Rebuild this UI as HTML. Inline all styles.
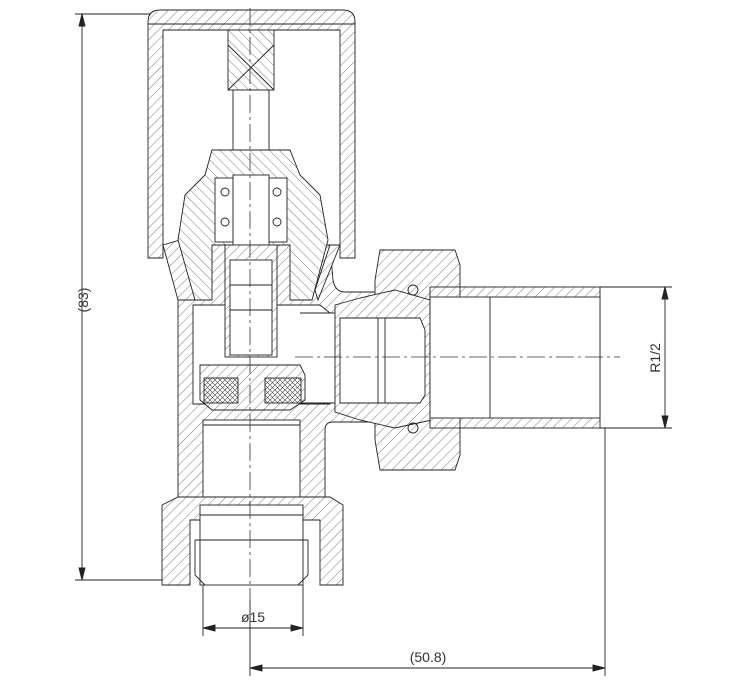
<!DOCTYPE html>
<html><head><meta charset="utf-8"><style>
html,body{margin:0;padding:0;background:#fff;}
svg{display:block;}
text{font-family:"Liberation Sans",sans-serif;font-size:14px;fill:#333;}
</style></head><body>
<svg width="734" height="700" viewBox="0 0 734 700" xmlns="http://www.w3.org/2000/svg">
<defs>
<pattern id="h" patternUnits="userSpaceOnUse" width="7" height="7" patternTransform="rotate(45)">
<rect width="7" height="7" fill="#fff"/><line x1="0" y1="0" x2="0" y2="7" stroke="#444" stroke-width="0.7"/>
</pattern>
<pattern id="h2" patternUnits="userSpaceOnUse" width="7" height="7" patternTransform="rotate(-45)">
<rect width="7" height="7" fill="#fff"/><line x1="0" y1="0" x2="0" y2="7" stroke="#444" stroke-width="0.7"/>
</pattern>
<pattern id="x" patternUnits="userSpaceOnUse" width="5" height="5">
<rect width="5" height="5" fill="#fff"/><path d="M0,0 L5,5 M5,0 L0,5" stroke="#444" stroke-width="0.6"/>
</pattern>
</defs>
<g stroke="#222" stroke-width="0.9" fill="none">
<!-- left dimension -->
<line x1="75" y1="14" x2="150" y2="14"/>
<line x1="75" y1="580" x2="162" y2="580"/>
<line x1="82" y1="14" x2="82" y2="580"/>
<polygon points="82,14 79,26 85,26" fill="#222"/>
<polygon points="82,580 79,568 85,568" fill="#222"/>
<!-- right dimension -->
<line x1="600" y1="287" x2="672" y2="287"/>
<line x1="600" y1="428" x2="672" y2="428"/>
<line x1="665" y1="287" x2="665" y2="428"/>
<polygon points="665,287 662,299 668,299" fill="#222"/>
<polygon points="665,428 662,416 668,416" fill="#222"/>
<!-- bottom dims -->
<line x1="203" y1="585" x2="203" y2="636"/>
<line x1="303" y1="585" x2="303" y2="636"/>
<line x1="203" y1="628" x2="303" y2="628"/>
<polygon points="203,628 215,625 215,631" fill="#222"/>
<polygon points="303,628 291,625 291,631" fill="#222"/>
<line x1="250" y1="600" x2="250" y2="676"/>
<line x1="605" y1="428" x2="605" y2="676"/>
<line x1="250" y1="668" x2="605" y2="668"/>
<polygon points="250,668 262,665 262,671" fill="#222"/>
<polygon points="605,668 593,665 593,671" fill="#222"/>

<!-- cap -->
<path d="M148,258 L148,22 Q148,10 160,10 L343,10 Q355,10 355,22 L355,258 L340,258 L340,30 L163,30 L163,258 Z" fill="url(#h)"/>
<line x1="148" y1="24" x2="355" y2="24"/>
<!-- stem -->
<rect x="228" y="30" width="46" height="60" fill="url(#h2)"/>
<line x1="228" y1="45" x2="274" y2="90"/><line x1="274" y1="45" x2="228" y2="90"/>
<rect x="233" y="90" width="36" height="60" fill="#fff"/>

<!-- body -->
<path d="M178,245 L178,497 L325,497 L325,430 Q325,422 333,422 L378,422 L378,292 L345,292 Q335,292 333,280 L330,245 Z" fill="url(#h)"/>
<path d="M193,305 L193,404 L330,404 L330,313 L320,305 Z" fill="#fff"/>
<rect x="300" y="313" width="80" height="90" fill="#fff" stroke="none"/>
<path d="M300,313 L380,313 M300,403 L380,403"/>
<rect x="203" y="420" width="97" height="77" fill="#fff"/>
<line x1="203" y1="425" x2="300" y2="425"/>
<!-- bonnet nut left -->
<path d="M163,245 L180,240 L195,300 L178,300 Z" fill="url(#h)"/>
<path d="M318,300 L340,245 L330,245 L315,290 Z" fill="url(#h)"/>
<!-- bonnet -->
<path d="M212,150 L290,150 L300,175 L320,195 L328,240 L312,300 L290,300 L290,245 L212,245 L212,300 L195,300 L178,240 L185,195 L205,175 Z" fill="url(#h2)"/>
<rect x="215" y="178" width="72" height="64" fill="#fff"/>
<circle cx="225" cy="192" r="4"/><circle cx="277" cy="192" r="4"/>
<circle cx="225" cy="222" r="4"/><circle cx="277" cy="222" r="4"/>
<rect x="233" y="175" width="36" height="70" fill="#fff"/>
<rect x="225" y="245" width="52" height="112" fill="url(#h)"/>
<rect x="230" y="260" width="42" height="95" fill="#fff"/>
<line x1="230" y1="285" x2="272" y2="285"/><line x1="230" y1="310" x2="272" y2="310"/>
<!-- disc with packings -->
<path d="M200,365 L300,365 L305,375 L305,400 L290,410 L212,410 L200,400 Z" fill="url(#h)"/>
<rect x="204" y="378" width="34" height="25" fill="url(#x)"/>
<rect x="265" y="378" width="36" height="25" fill="url(#x)"/>
<!-- bottom nut -->
<path d="M162,505 L178,497 L330,497 L343,505 L343,585 L320,585 L320,520 L190,520 L190,585 L162,585 Z" fill="url(#h)"/>
<rect x="200" y="505" width="103" height="80" fill="#fff"/>
<line x1="200" y1="515" x2="303" y2="515"/>
<line x1="195" y1="540" x2="308" y2="540"/>
<path d="M195,540 L195,575 L205,585 M308,540 L308,575 L298,585"/>

<!-- right nut -->
<path d="M380,250 L455,250 L460,265 L460,455 L455,470 L380,470 L375,440 L375,280 Z" fill="url(#h)"/>
<rect x="378" y="300" width="82" height="118" fill="#fff" stroke="none"/>
<!-- union tail piece -->
<path d="M335,305 L360,298 L395,290 L430,300 L432,420 L395,428 L360,420 L335,412 Z" fill="url(#h)"/>
<path d="M340,318 L420,318 L425,330 L425,395 L420,403 L340,403 Z" fill="#fff"/>
<line x1="385" y1="318" x2="385" y2="403"/><line x1="378" y1="318" x2="378" y2="403"/>
<circle cx="413" cy="290" r="5"/><circle cx="413" cy="428" r="5"/>
<!-- tail -->
<rect x="430" y="287" width="170" height="141" fill="url(#h)"/>
<rect x="430" y="297" width="170" height="121" fill="#fff"/>
<line x1="490" y1="297" x2="490" y2="418"/>
<line x1="460" y1="287" x2="460" y2="297"/><line x1="460" y1="418" x2="460" y2="428"/>
</g>
<!-- centerlines -->
<g stroke="#333" stroke-width="0.8" stroke-dasharray="18,4,3,4" fill="none">
<line x1="250" y1="8" x2="250" y2="600"/>
<line x1="295" y1="357" x2="620" y2="357"/>
</g>
<text x="0" y="0" transform="translate(88,300) rotate(-90)" text-anchor="middle">(83)</text>
<text x="0" y="0" transform="translate(660,358) rotate(-90)" text-anchor="middle">R1/2</text>
<text x="253" y="622" text-anchor="middle">ø15</text>
<text x="428" y="662" text-anchor="middle">(50.8)</text>
</svg>
</body></html>
